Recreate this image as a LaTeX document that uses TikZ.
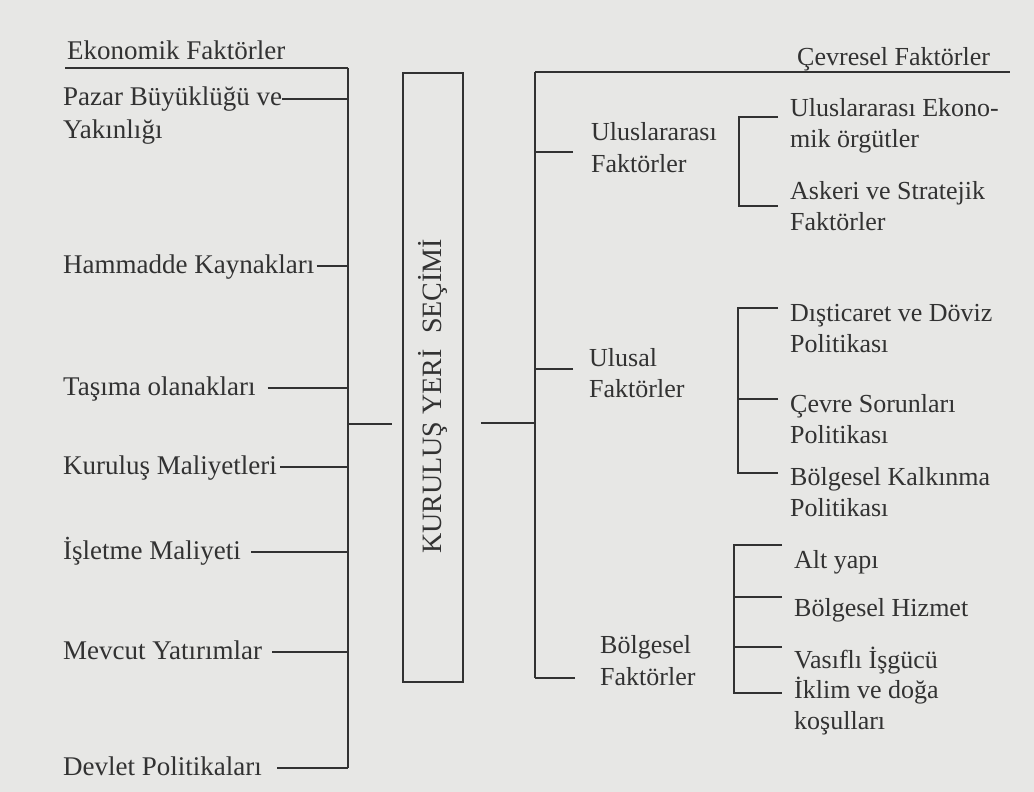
\documentclass[tikz,border=0pt]{standalone}
\usepackage{fontspec}
\setmainfont{Liberation Serif}
\usetikzlibrary{calc}
\definecolor{paper}{RGB}{231,231,229}
\definecolor{ink}{RGB}{50,50,50}
\tikzset{
  lbl/.style={anchor=base west,inner sep=0pt,align=left,text=ink,
    font=\fontsize{27}{33}\selectfont},
  rlbl/.style={lbl,font=\fontsize{26}{30.5}\selectfont},
  bar/.style={draw=ink,line width=1.8pt},
}
\begin{document}
\begin{tikzpicture}[x=1pt,y=-1pt]
\fill[paper](0,0)rectangle(1034,792);
% kutu
\node[draw=ink,line width=1.8pt,rotate=90,minimum width=609pt,minimum height=60pt,
  inner sep=0pt,text=ink,font=\fontsize{28}{30}\selectfont]
  (kys) at (433,377.5){KURULUŞ YERİ\hspace{0.55em}SEÇİMİ\hspace*{38pt}};
% sol: ekonomik faktorler
\coordinate (lstart) at (65,68);
\coordinate (ltop) at (348,68);
\node[lbl](ekon) at (67,60){Ekonomik Faktörler};
\draw[bar](lstart)--(ltop);
\foreach \n/\y/\g/\d/\t in {pazar/139/0/-40/{Pazar Büyüklüğü ve\\Yakınlığı},
  hammadde/273/2/-7/{Hammadde Kaynakları},tasima/395/12/-7/{Taşıma olanakları},
  kurulus/474/3/-7/{Kuruluş Maliyetleri},isletme/559/10/-7/{İşletme Maliyeti},
  mevcut/659/10/-7/{Mevcut Yatırımlar},devlet/775/15/-7/{Devlet Politikaları}}{
  \node[lbl](\n) at (63,\y){\t};
  \draw[bar]($(\n.base east)+(\g,\d)$)coordinate(t\n)--(t\n -| ltop);
}
\draw[bar](ltop)--(ltop |- tdevlet);
\coordinate (lmid) at (348,424);
\draw[bar,shorten >=10pt](lmid)--(lmid -| kys.north);
% sag: cevresel faktorler
\coordinate (rtop) at (535,72);
\coordinate (rend) at (1010,72);
\node[rlbl](cevre) at (797,66){Çevresel Faktörler};
\draw[bar](rtop)--(rend);
\coordinate (rmid) at (535,423);
\draw[bar,shorten <=17pt](rmid -| kys.south)--(rmid);
\node[rlbl,font=\fontsize{26}{32}\selectfont](uf) at (591,172){Uluslararası\\Faktörler};
\node[rlbl](ulf) at (589,397){Ulusal\\Faktörler};
\node[rlbl,font=\fontsize{26}{32}\selectfont](bf) at (600,685){Bölgesel\\Faktörler};
\draw[bar]($(uf.base west)+(-18,-20)$)coordinate(tuf)--(tuf -| rtop);
\draw[bar]($(ulf.base west)+(-16,-28)$)coordinate(tulf)--(tulf -| rtop);
\draw[bar]($(bf.base west)+(-25,-7)$)coordinate(tbf)--(tbf -| rtop);
\draw[bar](rtop)--(rtop |- tbf);
% alt gruplar
\coordinate (b1) at (739,0);
\coordinate (b2) at (738,0);
\coordinate (b3) at (734,0);
\foreach \n/\x/\y/\ty/\t in {ue/790/147/117/{Uluslararası Ekono-\\mik örgütler},
  as/790/230/206/{Askeri ve Stratejik\\Faktörler},
  di/790/352/308/{Dışticaret ve Döviz\\Politikası},
  cs/790/443/399/{Çevre Sorunları\\Politikası},
  bk/790/516/473/{Bölgesel Kalkınma\\Politikası},
  ay/794/568/545/{Alt yapı},bh/794/616/597/{Bölgesel Hizmet},
  vi/794/668/647/{Vasıflı İşgücü},ik/794/729/693/{İklim ve doğa\\koşulları}}{
  \node[rlbl](\n) at (\x,\y){\t};
  \coordinate (t\n) at ($(\n.base west)+(-12,\ty-\y)$);
}
\draw[bar](tue)--(tue -| b1)--(tas -| b1)--(tas);
\draw[bar](tdi)--(tdi -| b2)--(tbk -| b2)--(tbk);
\draw[bar](tcs)--(tcs -| b2);
\draw[bar](tay)--(tay -| b3)--(tik -| b3)--(tik);
\draw[bar](tbh)--(tbh -| b3);
\draw[bar](tvi)--(tvi -| b3);
\end{tikzpicture}
\end{document}
